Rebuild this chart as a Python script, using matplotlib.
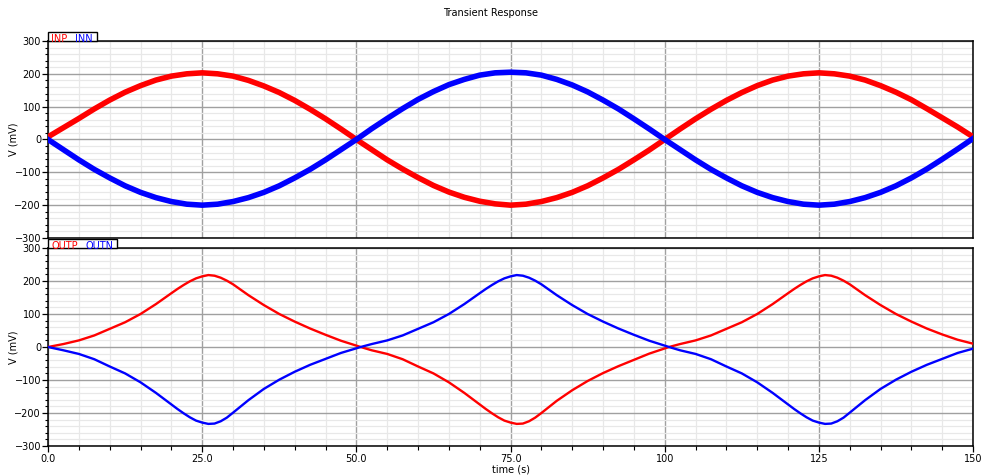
import matplotlib
matplotlib.use("Agg")
import matplotlib.pyplot as plt
from matplotlib.patches import Rectangle
from matplotlib.ticker import MultipleLocator

# --- data (mV vs s) ---
T_IN = [0, 2.5, 5, 7.5, 10, 12.5, 15, 17.5, 20, 22.5, 25, 27.5, 30, 32.5, 35, 37.5, 40, 42.5, 45, 47.5,
        50, 52.5, 55, 57.5, 60, 62.5, 65, 67.5, 70, 72.5, 75, 77.5, 80, 82.5, 85, 87.5, 90, 92.5, 95, 97.5,
        100, 102.5, 105, 107.5, 110, 112.5, 115, 117.5, 120, 122.5, 125, 127.5, 130, 132.5, 135, 137.5,
        140, 142.5, 145, 147.5, 150]
INP = [8, 36, 64, 93, 120, 144, 164, 181, 193, 200, 203, 200, 193, 180, 163, 143, 119, 92, 63, 32,
       0, -31, -62, -90, -116, -140, -160, -176, -188, -196, -200, -197, -189, -177, -161, -141, -117, -91, -62, -32,
       0, 32, 63, 92, 119, 143, 164, 181, 193, 200, 203, 200, 193, 181, 164, 144,
       121, 94, 66, 38, 8]
INN = [0, -31, -62, -91, -117, -141, -161, -177, -189, -197, -200, -197, -189, -177, -161, -141, -117, -91, -62, -31,
       0, 33, 64, 94, 122, 146, 167, 183, 196, 203, 205, 203, 196, 183, 166, 145, 120, 93, 63, 32,
       0, -31, -62, -91, -117, -141, -161, -177, -189, -197, -200, -197, -189, -177, -161, -141,
       -117, -90, -60, -29, 3]

T_OUT = [0, 2.5, 5, 7.5, 10, 12.5, 15, 17.5, 20, 21, 22, 23, 24, 25, 26, 27, 28, 29, 30,
         32.5, 35, 37.5, 40, 42.5, 45, 47.5, 50.7,
         52.5, 55, 57.5, 60, 62.5, 65, 67.5, 70, 71, 72, 73, 74, 75, 76, 77, 78, 79, 80,
         82.5, 85, 87.5, 90, 92.5, 95, 97.5, 100.7,
         102.5, 105, 107.5, 110, 112.5, 115, 117.5, 120, 121, 122, 123, 124, 125, 126, 127, 128, 129, 130,
         132.5, 135, 137.5, 140, 142.5, 145, 147.5, 150]
OUTP = [0, 9, 20, 35, 55, 75, 100, 130, 163, 176, 188, 199, 208, 214, 218, 216, 210, 201, 190,
        157, 127, 100, 77, 56, 37, 19, 0,
        -10, -21, -37, -59, -80, -107, -139, -174, -188, -201, -213, -223, -229, -233, -232, -225, -214, -200,
        -163, -131, -103, -79, -58, -39, -20, 0,
        9, 20, 35, 55, 75, 100, 130, 163, 176, 188, 199, 208, 214, 218, 216, 210, 201, 190,
        157, 127, 100, 77, 56, 38, 22, 10]
OUTN = [0, -10, -21, -37, -59, -80, -107, -139, -174, -188, -201, -213, -223, -229, -233, -232, -225, -214, -199,
        -161, -127, -99, -75, -54, -36, -18, 0,
        9, 20, 35, 55, 75, 100, 130, 163, 176, 188, 199, 208, 214, 218, 216, 210, 201, 190,
        157, 127, 100, 77, 56, 37, 19, 0,
        -10, -21, -37, -59, -80, -107, -139, -174, -188, -201, -213, -223, -229, -233, -232, -225, -214, -199,
        -161, -127, -99, -75, -54, -36, -18, -5]

XTICKS = [0, 25, 50, 75, 100, 125, 150]
XTICK_LABELS = ["0.0", "25.0", "50.0", "75.0", "100", "125", "150"]
YTICKS = [-300, -200, -100, 0, 100, 200, 300]

RED, BLUE = "#ff0000", "#0000ff"
FS = 7

fig = plt.figure(figsize=(9.82, 4.76), dpi=100)
ax1 = fig.add_axes([0.0489, 0.500, 0.9420, 0.4139])
ax2 = fig.add_axes([0.0489, 0.063, 0.9420, 0.4160])


def style(ax, names, name_x, tab_w):
    ax.set_xlim(0, 150); ax.set_ylim(-300, 300)
    ax.set_yticks(YTICKS)
    ax.yaxis.set_minor_locator(MultipleLocator(20))
    ax.set_xticks(XTICKS)
    ax.xaxis.set_minor_locator(MultipleLocator(5))
    ax.grid(which="minor", color="#e8e8e8", lw=0.9)
    ax.grid(which="major", color="#a0a0a0", lw=1.0)
    ax.set_axisbelow(True)
    for s in ax.spines.values():
        s.set_color("black"); s.set_linewidth(1.1)
    ax.tick_params(axis="y", which="major", length=4, width=0.9, labelsize=FS, pad=1)
    ax.tick_params(axis="y", which="minor", length=2, width=0.8)
    ax.set_ylabel("V (mV)", fontsize=FS)
    ax.yaxis.set_label_coords(-0.0324, 0.5)
    # legend tab sitting on the top edge
    ax.add_patch(Rectangle((0, 1), tab_w, 0.044, transform=ax.transAxes, clip_on=False,
                           facecolor="white", edgecolor="black", lw=1.0, zorder=5))
    for name, c, x in zip(names, [RED, BLUE], name_x):
        ax.text(x, 0.994, name, color=c, fontsize=7, transform=ax.transAxes,
                va="baseline", ha="left", zorder=6)


style(ax1, ["INP", "INN"], [0.003, 0.029], 0.053)
style(ax2, ["OUTP", "OUTN"], [0.004, 0.041], 0.0746)

ax1.plot(T_IN, INP, color=RED, lw=4.0, zorder=3)
ax1.plot(T_IN, INN, color=BLUE, lw=4.0, zorder=3)
ax1.tick_params(axis="x", which="both", length=0, labelbottom=False)

ax2.plot(T_OUT, OUTP, color=RED, lw=1.7, zorder=3)
ax2.plot(T_OUT, OUTN, color=BLUE, lw=1.7, zorder=3)
ax2.set_xticklabels(XTICK_LABELS)
ax2.tick_params(axis="x", which="major", length=4, width=0.9, labelsize=FS, pad=2)
ax2.tick_params(axis="x", which="minor", length=3, width=0.8)
ax2.set_xlabel("time (s)", fontsize=FS, labelpad=0)

fig.text(0.5, 0.972, "Transient Response", ha="center", va="center", fontsize=FS)

fig.savefig("out.png", dpi=100)
